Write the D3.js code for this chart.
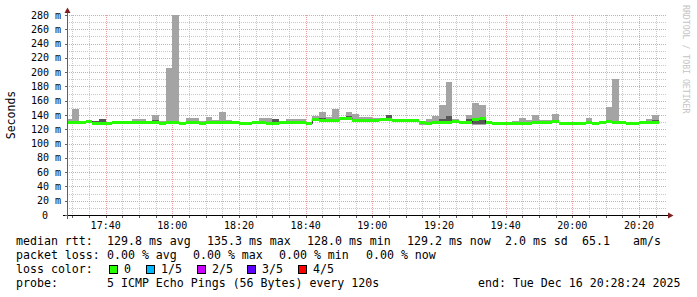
<!DOCTYPE html>
<html>
<head>
<meta charset="utf-8">
<script src="https://cdn.jsdelivr.net/npm/d3@7/dist/d3.min.js"></script>
<style>
body { margin: 0; background: #fff; }
text { font-family: 'DejaVu Sans Mono', monospace; white-space: pre; }
</style>
</head>
<body>
<div class="canvas"></div>
<script>
// smokeping data, 2 min steps starting 17:28 (UTC used for layout)
const medianMs = [129.8, 129.8, 129.8, 130.5, 128.8, 128.8, 128.8, 129.5, 129.5, 129.5,
 129.0, 129.0, 129.0, 129.5, 128.5, 129.0, 129.0, 128.3, 130.0, 130.0,
 128.6, 130.0, 129.0, 130.0, 130.0, 130.0, 128.3, 128.3, 130.0, 130.0,
 128.3, 128.6, 130.0, 129.5, 129.5, 129.5, 128.0, 134.0, 133.0, 131.8,
 131.8, 134.7, 134.7, 133.0, 133.0, 133.0, 133.0, 134.0, 134.0, 133.0,
 133.0, 133.0, 131.8, 129.8, 128.5, 130.0, 129.5, 129.5, 130.3, 129.5,
 130.0, 134.0, 135.3, 129.8, 128.5, 128.2, 128.8, 128.8, 128.8, 128.8,
 129.5, 129.0, 129.0, 130.3, 128.8, 128.8, 128.8, 128.8, 129.0, 128.8,
 129.0, 130.3, 129.8, 129.8, 128.2, 128.2, 129.8, 129.8, 129.8];

const maxMs = [134, 149, 131.6, 131.5, 131, 135, 130.5, 130.5, 130.5, 130.5,
 134.4, 134.4, 131, 139.5, 132, 206, 280, 130, 136, 136,
 131, 137, 133, 144.5, 133, 131.5, 130, 130, 131.5, 136,
 136, 134, 131.5, 134.4, 134.4, 134.4, 130, 139, 144, 137.6,
 148.4, 137.6, 144, 141.4, 137.6, 137.6, 135.3, 135.3, 140, 134.5,
 134.5, 134.5, 134, 131, 134.4, 139, 154, 186, 134, 130.5,
 140.7, 156.5, 153.5, 131, 130, 129.8, 130, 131, 135.8, 133,
 140, 133, 133, 141.4, 130, 130, 130, 130, 136, 130,
 131, 151.6, 190, 130.5, 129.6, 129.6, 131, 134.8, 139.6];

// ping 4 of 5 (upper edge of dark smoke)
const p4Ms = [130.8, 130.8, 130.8, 131.5, 131.5, 135, 129.8, 130.5, 130.5, 130.5,
 130, 130, 130, 133, 129.5, 130, 130, 129.3, 131, 131,
 129.6, 131, 130, 131, 131, 131, 129.3, 129.3, 131, 131,
 129.3, 134, 131, 130.5, 130.5, 131.8, 129, 135, 136.5, 132.8,
 132.8, 135.7, 139, 134, 134, 134, 134, 135, 140, 134,
 134, 134, 134, 130.8, 129.5, 131, 134, 139, 132.5, 130.5,
 134, 135, 136.3, 130.8, 129.5, 129.2, 129.8, 129.8, 129.8, 129.8,
 130.5, 130, 130, 133, 129.8, 129.8, 129.8, 129.8, 130, 129.8,
 131.5, 133, 130.8, 130.8, 129.2, 129.2, 130.8, 130.8, 132.5];

// ping 2 of 5 (lower edge of dark smoke)
const p2Ms = [128.8, 128.8, 128.8, 129.5, 127.8, 127.8, 127.8, 128.5, 128.5, 128.5,
 128, 128, 128, 128.5, 127.5, 128, 128, 127.3, 129, 129,
 127.6, 129, 128, 129, 129, 129, 127.3, 127.3, 129, 129,
 127.3, 127.6, 129, 128.5, 128.5, 128.5, 127, 133, 132, 130.8,
 130.8, 133.7, 133.7, 132, 132, 132, 132, 133, 133, 132,
 132, 132, 130.8, 127, 127.5, 129, 128.5, 128.5, 129.3, 128.5,
 129, 127, 127, 128.8, 127.5, 127.2, 127.8, 127.8, 127.8, 127.8,
 128.5, 128, 128, 129.3, 127.8, 127.8, 127.8, 127.8, 128, 127.8,
 128, 129.3, 128.8, 128.8, 127.2, 127.2, 128.8, 128.8, 128.8];

const minMs = [128.3, 128.3, 128.3, 129, 127.3, 127.3, 127.3, 128, 128, 128,
 127.5, 127.5, 127.5, 128, 127, 127.5, 127.5, 126.8, 128.5, 128.5,
 127.1, 128.5, 127.5, 128.5, 128.5, 128.5, 126.8, 126.8, 128.5, 128.5,
 126.8, 127.1, 128.5, 128, 128, 128, 126.5, 132.5, 131.5, 130.3,
 130.3, 133.2, 133.2, 131.5, 131.5, 131.5, 131.5, 132.5, 132.5, 131.5,
 131.5, 131.5, 130.3, 126.5, 127, 128.5, 128, 128, 128.8, 128,
 128.5, 126, 126.5, 128.3, 127, 126.7, 127.3, 127.3, 127.3, 127.3,
 128, 127.5, 127.5, 128.8, 127.3, 127.3, 127.3, 127.3, 127.5, 127.3,
 127.5, 128.8, 128.3, 128.3, 126.7, 126.7, 128.3, 128.3, 128.3];

const timeLabels = ['17:40', '18:00', '18:20', '18:40', '19:00', '19:20', '19:40', '20:00', '20:20'];
const yTicks = [0, 20, 40, 60, 80, 100, 120, 140, 160, 180, 200, 220, 240, 260, 280];
const lossLabels = ['0', '1/5', '2/5', '3/5', '4/5'];
const lossColors = ['#26ff00', '#00b8ff', '#cc00ff', '#5e00ff', '#ff0000'];

const svg = d3.select('.canvas')
	.append('svg')
	.attr('width', 697)
	.attr('height', 297);

svg.append('rect').attr('width', 697).attr('height', 297).attr('fill', '#fff');

const t0 = Date.UTC(2025, 11, 16, 17, 28, 24);
const t1 = Date.UTC(2025, 11, 16, 20, 28, 24);
const firstSlot = Date.UTC(2025, 11, 16, 17, 28, 0);
const stepMs = 120000;

const x = d3.scaleUtc().domain([t0, t1]).range([67, 667]);
const y = d3.scaleLinear().domain([0, 280]).range([215, 15]);

const data = medianMs.map((m, i) => ({
	start: firstSlot + i * stepMs,
	end: firstSlot + (i + 1) * stepMs,
	median: m, max: maxMs[i], min: minMs[i], p2: p2Ms[i], p4: p4Ms[i]
}));

// grid
const grid = svg.append('g');
const minorT = d3.utcMinute.every(5).range(new Date(t0), new Date(t1));
const majorT = d3.utcMinute.every(20).range(new Date(t0), new Date(t1));
grid.selectAll('.vmin').data(minorT).enter().append('line')
	.attr('x1', d => Math.round(x(d)) + 0.5).attr('x2', d => Math.round(x(d)) + 0.5)
	.attr('y1', 15).attr('y2', 215)
	.attr('stroke', '#c8c8c8').attr('stroke-dasharray', '1,1');
grid.selectAll('.hmin').data(d3.range(10, 281, 20)).enter().append('line')
	.attr('x1', 67).attr('x2', 667)
	.attr('y1', d => Math.round(y(d)) + 0.5).attr('y2', d => Math.round(y(d)) + 0.5)
	.attr('stroke', '#c8c8c8').attr('stroke-dasharray', '1,1');
grid.selectAll('.vmaj').data(majorT).enter().append('line')
	.attr('x1', d => Math.round(x(d)) + 0.5).attr('x2', d => Math.round(x(d)) + 0.5)
	.attr('y1', 15).attr('y2', 215)
	.attr('stroke', '#eda0a0').attr('stroke-dasharray', '1,1');
grid.selectAll('.hmaj').data(yTicks.slice(1)).enter().append('line')
	.attr('x1', 67).attr('x2', 667)
	.attr('y1', d => Math.round(y(d)) + 0.5).attr('y2', d => Math.round(y(d)) + 0.5)
	.attr('stroke', '#eda0a0').attr('stroke-dasharray', '1,1');

// clip
svg.append('clipPath').attr('id', 'plot')
	.append('rect').attr('x', 67).attr('y', 15).attr('width', 600).attr('height', 200);
const plot = svg.append('g').attr('clip-path', 'url(#plot)');

// smoke
plot.selectAll('.smoke').data(data).enter().append('rect')
	.attr('x', d => x(d.start)).attr('width', d => x(d.end) - x(d.start))
	.attr('y', d => y(d.max)).attr('height', d => y(d.min) - y(d.max))
	.attr('fill', '#a4a4a4').attr('shape-rendering', 'crispEdges');
plot.selectAll('.smoke2').data(data).enter().append('rect')
	.attr('x', d => x(d.start)).attr('width', d => x(d.end) - x(d.start))
	.attr('y', d => y(d.p4)).attr('height', d => y(d.p2) - y(d.p4))
	.attr('fill', '#585858').attr('shape-rendering', 'crispEdges');

// median line
const pts = data.map(d => [x(d.start), y(d.median)]);
pts.push([x(data[data.length - 1].end), y(data[data.length - 1].median)]);
plot.append('path')
	.attr('d', d3.line().curve(d3.curveStepAfter)(pts))
	.attr('fill', 'none').attr('stroke', '#202020').attr('stroke-width', 1);

// loss coloured band round the median
plot.selectAll('.band').data(data).enter().append('rect')
	.attr('x', d => x(d.start)).attr('width', d => x(d.end) - x(d.start))
	.attr('y', d => y(d.median + 2.1)).attr('height', d => y(d.median - 2.1) - y(d.median + 2.1))
	.attr('fill', lossColors[0]).attr('shape-rendering', 'crispEdges');

// axes
svg.append('line').attr('x1', 63).attr('x2', 669).attr('y1', 215.5).attr('y2', 215.5)
	.attr('stroke', '#000');
svg.append('line').attr('x1', 67.5).attr('x2', 67.5).attr('y1', 219).attr('y2', 12)
	.attr('stroke', '#606060');
svg.append('path').attr('d', 'M668,212.5L673.5,215.5L668,218.5Z').attr('fill', '#7f1f1f');
svg.append('path').attr('d', 'M64.5,13L67.5,7.5L70.5,13Z').attr('fill', '#7f1f1f');

// ticks
svg.selectAll('.xt').data(minorT).enter().append('line')
	.attr('x1', d => Math.round(x(d)) + 0.5).attr('x2', d => Math.round(x(d)) + 0.5)
	.attr('y1', 216).attr('y2', 218).attr('stroke', '#606060');
svg.selectAll('.yt').data(yTicks).enter().append('line')
	.attr('x1', 65).attr('x2', 67)
	.attr('y1', d => Math.round(y(d)) + 0.5).attr('y2', d => Math.round(y(d)) + 0.5)
	.attr('stroke', '#606060');

// tick labels
const parseHM = d3.utcParse('%Y-%m-%d %H:%M');
svg.selectAll('.xl').data(timeLabels).enter().append('text')
	.attr('x', d => x(parseHM('2025-12-16 ' + d)))
	.attr('y', 229)
	.attr('text-anchor', 'middle')
	.attr('font-size', '10px')
	.attr('fill', '#000')
	.text(d => d);
svg.selectAll('.yl').data(yTicks).enter().append('text')
	.attr('x', d => d === 0 ? 48 : 61)
	.attr('y', d => y(d) + 3.5)
	.attr('text-anchor', 'end')
	.attr('font-size', '10px')
	.attr('fill', '#000')
	.text(d => d === 0 ? '0' : d + ' m');

// y title
svg.append('text')
	.attr('transform', 'translate(15,115) rotate(-90)')
	.attr('text-anchor', 'middle')
	.attr('font-size', '11.5px')
	.text('Seconds');

// watermark
svg.append('text')
	.attr('transform', 'translate(683,5) rotate(90)')
	.attr('font-size', '8.2px')
	.attr('fill', '#c4c4c4')
	.text('RRDTOOL / TOBI OETIKER');

// legend
const legendRows = [
	[[16, 245, 'median rtt:'], [107, 245, '129.8 ms avg'], [207, 245, '135.3 ms max'], [307, 245, '128.0 ms min'],
	 [407, 245, '129.2 ms now'], [505, 245, '2.0 ms sd'], [582, 245, '65.1'], [633, 245, 'am/s']],
	[[16, 259, 'packet loss:'], [107, 259, '0.00 % avg'], [193, 259, '0.00 % max'], [279, 259, '0.00 % min'], [366, 259, '0.00 % now']],
	[[16, 273, 'loss color:']],
	[[16, 287, 'probe:'], [107, 287, '5 ICMP Echo Pings (56 Bytes) every 120s'], [478, 287, 'end: Tue Dec 16 20:28:24 2025']]
];
const legend = svg.append('g');
legendRows.flat().forEach(p => {
	legend.append('text').attr('x', p[0]).attr('y', p[1])
		.attr('font-size', '11.6px').attr('fill', '#000').text(p[2]);
});

const swatchX = [109, 146, 197, 247, 298];
lossLabels.forEach((l, i) => {
	legend.append('rect').attr('x', swatchX[i] + 0.5).attr('y', 265.5)
		.attr('width', 8).attr('height', 8)
		.attr('fill', lossColors[i]).attr('stroke', '#000');
	legend.append('text').attr('x', swatchX[i] + 15).attr('y', 273)
		.attr('font-size', '11.6px').attr('fill', '#000').text(l);
});
</script>
</body>
</html>
